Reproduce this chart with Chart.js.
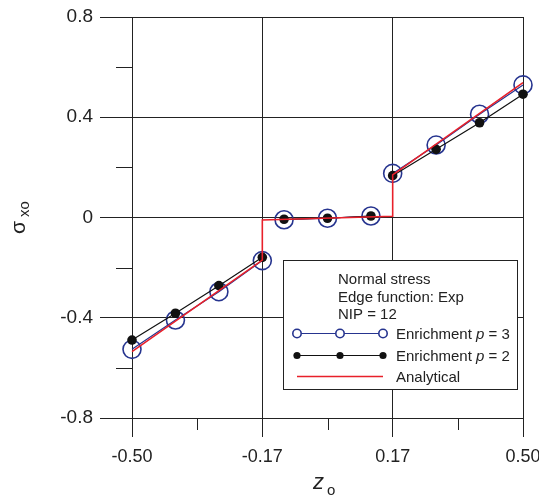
<!DOCTYPE html>
<html>
<head>
<meta charset="utf-8">
<script src="https://cdn.jsdelivr.net/npm/chart.js@4"></script>
<style>
  html, body { margin: 0; padding: 0; background: #fff; }
  #wrap { width: 539px; height: 497px; }
</style>
</head>
<body>
<div id="wrap"><canvas id="grafico" width="539" height="497"></canvas></div>
<script>
// node positions through the thickness (3 layers)
var zNodes = [-0.5, -0.3889, -0.2778, -0.1667, -0.1111, 0, 0.1111, 0.1667, 0.2778, 0.3889, 0.5];
var sigmaP3 = [-0.526, -0.409, -0.296, -0.172, -0.009, -0.003, 0.006, 0.176, 0.289, 0.412, 0.529];
var sigmaP2 = [-0.489, -0.382, -0.272, -0.159, -0.007, -0.003, 0.006, 0.167, 0.272, 0.378, 0.492];
var layerEnds = [3, 6]; // last index of each layer, no line to the next one

var zExact = [-0.5, -0.1667, -0.1667, 0.1667, 0.1667, 0.5];
var sigmaExact = [-0.535, -0.17, -0.01, 0.005, 0.17, 0.538];

var xTicks = [-0.5, -0.1667, 0.1667, 0.5];
var xMinor = [-0.3333, 0, 0.3333];
var yTicks = [-0.8, -0.4, 0, 0.4, 0.8];
var yMinor = [-0.6, -0.2, 0.2, 0.6];

var FONT = "'Liberation Sans', Arial, sans-serif";
var INK = '#222';
var BLUE = '#26348f';
var RED = '#e8202a';

function pares(xs, ys) {
    var out = [];
    for (var i = 0; i < xs.length; i++) out.push({ x: xs[i], y: ys[i] });
    return out;
}

function cortarCapas(color) {
    return function (c) {
        return layerEnds.indexOf(c.p0DataIndex) >= 0 ? 'rgba(0,0,0,0)' : color;
    };
}

var extras = {
    id: 'extras',
    afterDraw: function (chart) {
        var c = chart.ctx;
        var xs = chart.scales.x, ys = chart.scales.y;
        var a = chart.chartArea;
        c.save();
        c.strokeStyle = INK;
        c.lineWidth = 1;
        // minor ticks
        yMinor.forEach(function (v) {
            var p = Math.round(ys.getPixelForValue(v)) + 0.5;
            c.beginPath(); c.moveTo(a.left - 16, p); c.lineTo(a.left, p); c.stroke();
        });
        xMinor.forEach(function (v) {
            var p = Math.round(xs.getPixelForValue(v)) + 0.5;
            c.beginPath(); c.moveTo(p, a.bottom); c.lineTo(p, a.bottom + 12); c.stroke();
        });

        // axis titles
        c.fillStyle = INK;
        c.textBaseline = 'alphabetic';
        c.textAlign = 'left';
        c.font = 'italic 22px ' + FONT;
        c.fillText('z', 313, 489);
        c.font = '15px ' + FONT;
        c.fillText('o', 327, 495);

        c.save();
        c.translate(25, 228);
        c.rotate(-Math.PI / 2);
        c.font = '21px ' + FONT;
        c.fillText('σ', -6, 0);
        c.font = '15px ' + FONT;
        c.fillText('xo', 11, 4);
        c.restore();

        // legend box
        var L = 283, T = 260, R = 517, B = 389;
        c.fillStyle = '#fff';
        c.fillRect(L, T, R - L, B - T);
        c.strokeStyle = INK;
        c.strokeRect(L + 0.5, T + 0.5, R - L, B - T);

        c.fillStyle = INK;
        c.font = '15px ' + FONT;
        c.fillText('Normal stress', 338, 283.5);
        c.fillText('Edge function: Exp', 338, 301.5);
        c.fillText('NIP = 12', 338, 319);

        var xs3 = [297, 340, 383];
        // p = 3
        c.strokeStyle = BLUE; c.lineWidth = 1.2;
        c.beginPath(); c.moveTo(297, 333.5); c.lineTo(383, 333.5); c.stroke();
        c.fillStyle = '#fff'; c.lineWidth = 1.6;
        xs3.forEach(function (x) {
            c.beginPath(); c.arc(x, 333.5, 4.2, 0, Math.PI * 2); c.fill(); c.stroke();
        });
        // p = 2
        c.strokeStyle = '#111'; c.lineWidth = 1.2;
        c.beginPath(); c.moveTo(297, 355.5); c.lineTo(383, 355.5); c.stroke();
        c.fillStyle = '#111';
        xs3.forEach(function (x) {
            c.beginPath(); c.arc(x, 355.5, 3.6, 0, Math.PI * 2); c.fill();
        });
        // analytical
        c.strokeStyle = RED; c.lineWidth = 1.4;
        c.beginPath(); c.moveTo(297, 376.5); c.lineTo(383, 376.5); c.stroke();

        function entrada(txt1, p, txt2, y) {
            c.fillStyle = INK;
            c.font = '15px ' + FONT;
            var x = 396;
            c.fillText(txt1, x, y);
            x += c.measureText(txt1).width;
            if (p) {
                c.font = 'italic 15px ' + FONT;
                c.fillText(p, x, y);
                x += c.measureText(p).width;
                c.font = '15px ' + FONT;
                c.fillText(txt2, x, y);
            }
        }
        entrada('Enrichment ', 'p', ' = 3', 338.5);
        entrada('Enrichment ', 'p', ' = 2', 361);
        entrada('Analytical', null, null, 381.5);
        c.restore();
    }
};

var ctx = document.getElementById('grafico').getContext('2d');
var chart_sigma = new Chart(ctx, {
    type: 'scatter',
    data: {
        datasets: [{
            label: 'Enrichment p = 3',
            data: pares(zNodes, sigmaP3),
            showLine: true,
            clip: false,
            borderColor: BLUE,
            borderWidth: 1.2,
            segment: { borderColor: cortarCapas(BLUE) },
            pointRadius: 9,
            pointBorderWidth: 1.6,
            pointBorderColor: BLUE,
            pointBackgroundColor: 'rgba(0,0,0,0)',
            order: 3
        }, {
            label: 'Enrichment p = 2',
            data: pares(zNodes, sigmaP2),
            showLine: true,
            clip: false,
            borderColor: '#111',
            borderWidth: 1.2,
            segment: { borderColor: cortarCapas('#111') },
            pointRadius: 4.8,
            pointBorderWidth: 0,
            pointBackgroundColor: '#111',
            order: 2
        }, {
            label: 'Analytical',
            data: pares(zExact, sigmaExact),
            showLine: true,
            clip: false,
            borderColor: RED,
            borderWidth: 1.6,
            pointRadius: 0,
            order: 1
        }]
    },
    options: {
        responsive: false,
        animation: false,
        layout: { padding: { top: 17, right: 16, left: 0, bottom: 0 } },
        plugins: { legend: { display: false }, tooltip: { enabled: false } },
        scales: {
            x: {
                type: 'linear',
                min: -0.5,
                max: 0.5,
                afterBuildTicks: function (s) { s.ticks = xTicks.map(function (v) { return { value: v }; }); },
                afterFit: function (s) { s.height = 79; s.paddingLeft = 0; s.paddingRight = 0; },
                ticks: {
                    color: INK,
                    font: { family: FONT, size: 18 },
                    padding: 9,
                    maxRotation: 0,
                    callback: function (v) { return v.toFixed(2); }
                },
                grid: { color: INK, lineWidth: 1, tickLength: 19, tickColor: INK },
                border: { color: INK, width: 1 }
            },
            y: {
                min: -0.8,
                max: 0.8,
                afterBuildTicks: function (s) { s.ticks = yTicks.map(function (v) { return { value: v }; }); },
                afterFit: function (s) { s.width = 132; s.paddingTop = 0; s.paddingBottom = 0; },
                ticks: {
                    color: INK,
                    font: { family: FONT, size: 19 },
                    padding: 7,
                    callback: function (v) { return Math.abs(v) < 1e-9 ? '0' : v.toFixed(1); }
                },
                grid: { color: INK, lineWidth: 1, tickLength: 32, tickColor: INK },
                border: { color: INK, width: 1 }
            }
        }
    },
    plugins: [extras]
});
</script>
</body>
</html>
